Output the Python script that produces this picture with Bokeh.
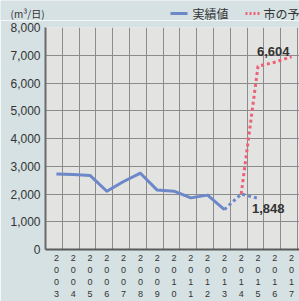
from bokeh.plotting import figure
from bokeh.layouts import column
from bokeh.models import FixedTicker, NumeralTickFormatter, Label, Range1d
from bokeh.core.properties import value
from bokeh.embed import file_html
from bokeh.resources import INLINE

# ---- data ----
years = list(range(2003, 2018))
year_labels = ["\n".join(str(y)) for y in years]

actual_years = [2003, 2004, 2005, 2006, 2007, 2008, 2009, 2010, 2011, 2012, 2013]
actual_vals = [2720, 2700, 2670, 2100, 2450, 2750, 2140, 2100, 1860, 1960, 1440]

recent_years = [2013, 2014, 2015]
recent_vals = [1440, 2000, 1848]

forecast_years = [2014, 2015, 2016, 2017]
forecast_vals = [2000, 6604, 6750, 6950]

y_ticks = [0, 1000, 2000, 3000, 4000, 5000, 6000, 7000, 8000]
series_names = ["実績値", "市の予測"]
unit_text = "(m³/日)"

JP = "Noto Sans CJK JP"
NUM = "Liberation Sans"
TXT = "#333333"
BLUE = "#6d88c8"
RED = "#ee6077"
PAPER = "#d5e1e3"
PLOT_BG = "#e3e3e2"
GRID = "#8c8c8c"

W = 299
HEAD_H = 20
MAIN_H = 281


def no_frame_align(fig):
    if "frame_align" in type(fig).properties():
        fig.frame_align = False


# ---- header strip (pixel coordinate space): unit label + legend ----
head = figure(width=W, height=HEAD_H, output_backend="svg", toolbar_location=None,
              x_range=Range1d(0, W), y_range=Range1d(0, HEAD_H),
              x_axis_location=None, y_axis_location=None,
              min_border=0, min_border_left=0, min_border_right=0,
              min_border_top=0, min_border_bottom=0)
head.grid.visible = False
head.outline_line_color = None
head.background_fill_color = PAPER
head.border_fill_color = PAPER
no_frame_align(head)

mid = HEAD_H - 13
head.text(x=[10], y=[mid], text=[unit_text], text_font=value(JP), text_font_size="10px",
          text_color=TXT, text_baseline="middle", text_align="left")
# legend swatches
head.line(x=[170, 187], y=[mid, mid], line_color=BLUE, line_width=3)
head.text(x=[192], y=[mid], text=[series_names[0]], text_font=value(JP), text_font_size="12px",
          text_color=TXT, text_baseline="middle", text_align="left")
head.line(x=[245, 259], y=[mid, mid], line_color=RED, line_width=3, line_dash="2 2")
head.text(x=[263], y=[mid], text=[series_names[1]], text_font=value(JP), text_font_size="12px",
          text_color=TXT, text_baseline="middle", text_align="left")

# ---- main chart ----
p = figure(width=W, height=MAIN_H, output_backend="svg", toolbar_location=None,
           x_range=Range1d(2002.35, 2017.47), y_range=Range1d(0, 8000),
           min_border_left=45, min_border_right=0, min_border_top=7, min_border_bottom=46)
p.background_fill_color = PLOT_BG
p.border_fill_color = PAPER
p.outline_line_color = None
no_frame_align(p)

p.xaxis.ticker = FixedTicker(ticks=years)
p.xaxis.major_label_overrides = {y: l for y, l in zip(years, year_labels)}
p.xaxis.major_label_text_font = NUM
p.xaxis.major_label_text_font_size = "9px"
p.xaxis.major_label_text_color = TXT
p.xaxis.major_label_standoff = 3
p.xaxis.major_tick_out = 0
p.xaxis.major_tick_in = 0
p.xaxis.major_tick_line_color = None
p.xaxis.minor_tick_line_color = None
p.xaxis.axis_line_color = "#5a5a5a"
p.xaxis.axis_line_width = 2

p.yaxis.ticker = FixedTicker(ticks=y_ticks)
p.yaxis.formatter = NumeralTickFormatter(format="0,0")
p.yaxis.major_label_text_font = NUM
p.yaxis.major_label_text_font_size = "12px"
p.yaxis.major_label_text_color = TXT
p.yaxis.major_label_standoff = 5
p.yaxis.major_tick_out = 0
p.yaxis.major_tick_in = 0
p.yaxis.major_tick_line_color = None
p.yaxis.minor_tick_line_color = None
p.yaxis.axis_line_color = "#6a6a6a"
p.yaxis.axis_line_width = 2

p.xgrid.ticker = FixedTicker(ticks=[y + 0.35 for y in years])
p.xgrid.grid_line_color = GRID
p.ygrid.ticker = FixedTicker(ticks=y_ticks)
p.ygrid.grid_line_color = GRID

p.line(actual_years, actual_vals, line_color=BLUE, line_width=3, line_join="round")
p.line(recent_years, recent_vals, line_color=BLUE, line_width=3, line_dash="3 3")
p.line(forecast_years, forecast_vals, line_color=RED, line_width=3, line_dash="3 3")

p.add_layout(Label(x=forecast_years[1], y=forecast_vals[1], text=f"{forecast_vals[1]:,}",
                   x_offset=-1, y_offset=10, text_align="left", text_baseline="bottom",
                   text_font=NUM, text_font_size="13px", text_font_style="bold", text_color=TXT))
p.add_layout(Label(x=recent_years[2], y=recent_vals[2], text=f"{recent_vals[2]:,}",
                   x_offset=-6, y_offset=-6, text_align="left", text_baseline="top",
                   text_font=NUM, text_font_size="13px", text_font_style="bold", text_color=TXT))

layout = column(head, p, spacing=0)
open("out.html", "w").write(file_html(layout, INLINE))
